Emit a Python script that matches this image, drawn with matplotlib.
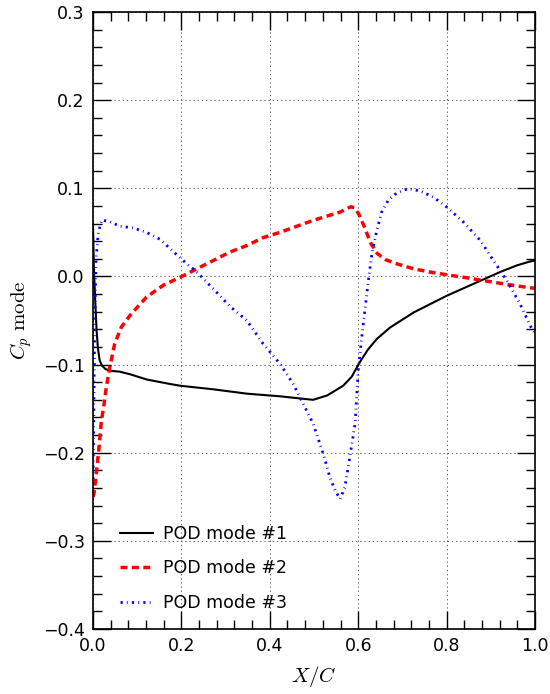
import matplotlib
matplotlib.use("Agg")
import matplotlib.pyplot as plt
from matplotlib.ticker import AutoMinorLocator, MultipleLocator

# POD mode #1
x_mode1 = [0.0, 0.002, 0.005, 0.008, 0.011, 0.015, 0.02, 0.028, 0.038, 0.06, 0.084,
           0.122, 0.174, 0.197, 0.271, 0.348, 0.423, 0.498, 0.53, 0.566, 0.585,
           0.604, 0.622, 0.642, 0.672, 0.725, 0.800, 0.876, 0.921, 0.959, 0.989, 1.0]
y_mode1 = [0.06, 0.01, -0.027, -0.06, -0.081, -0.095, -0.101, -0.105, -0.107, -0.108, -0.111,
           -0.117, -0.122, -0.124, -0.128, -0.133, -0.136, -0.140, -0.135, -0.124, -0.114,
           -0.097, -0.083, -0.071, -0.058, -0.041, -0.022, -0.005, 0.005, 0.0125, 0.017, 0.018]

# POD mode #2
x_mode2 = [0.0, 0.002, 0.0075, 0.0136, 0.019, 0.025, 0.030, 0.038, 0.049, 0.064, 0.084,
           0.102, 0.121, 0.159, 0.197, 0.235, 0.272, 0.31, 0.348, 0.385, 0.423, 0.498,
           0.559, 0.583, 0.592, 0.602, 0.615, 0.628, 0.643, 0.662, 0.687, 0.725, 0.762, 0.800,
           0.845, 0.891, 0.936, 0.989, 1.0]
y_mode2 = [-0.25, -0.247, -0.224, -0.194, -0.164, -0.145, -0.126, -0.103, -0.0765, -0.0576, -0.044,
           -0.034, -0.0235, -0.010, -0.001, 0.0087, 0.018, 0.0277, 0.035, 0.044, 0.050, 0.0636,
           0.073, 0.079, 0.078, 0.070, 0.055, 0.038, 0.026, 0.019, 0.0144, 0.0087, 0.005, 0.0019,
           -0.0015, -0.0053, -0.009, -0.0129, -0.0135]

# POD mode #3
x_mode3 = [0.0, 0.002, 0.004, 0.007, 0.012, 0.02, 0.038, 0.061, 0.091, 0.121, 0.152,
           0.182, 0.212, 0.231, 0.25, 0.272, 0.31, 0.348, 0.385, 0.423, 0.453, 0.476,
           0.498, 0.521, 0.536, 0.548, 0.559, 0.570, 0.581, 0.593, 0.600, 0.608, 0.615,
           0.623, 0.631, 0.642, 0.653, 0.668, 0.687, 0.713, 0.740, 0.770, 0.800, 0.838,
           0.876, 0.906, 0.936, 0.966, 0.989, 1.0]
y_mode3 = [-0.23, -0.15, -0.05, 0.02, 0.05, 0.064, 0.062, 0.057, 0.055, 0.050, 0.042,
           0.028, 0.0144, 0.0068, -0.0027, -0.014, -0.034, -0.050, -0.0765, -0.099, -0.122, -0.145,
           -0.167, -0.2015, -0.228, -0.243, -0.2526, -0.239, -0.205, -0.167, -0.107, -0.069, -0.039,
           -0.0045, 0.0258, 0.052, 0.073, 0.0864, 0.0947, 0.0996, 0.097, 0.090, 0.0788, 0.0617,
           0.041, 0.018, -0.0045, -0.031, -0.0557, -0.065]

labels = ["POD mode #1", "POD mode #2", "POD mode #3"]

plt.rcParams["mathtext.fontset"] = "cm"
plt.rcParams["lines.scale_dashes"] = False

fig = plt.figure(figsize=(5.5, 6.94), dpi=100)
ax = fig.add_axes([93 / 550, 1 - 629 / 694, 442 / 550, 617 / 694])

ax.plot(x_mode1, y_mode1, color="k", lw=1.5, label=labels[0])
ax.plot(x_mode2, y_mode2, color="r", lw=2.5, dashes=(5, 3.2), label=labels[1])
ax.plot(x_mode3, y_mode3, color="b", lw=2, dashes=(1.6, 3.0, 0.6, 3.0), label=labels[2])

ax.set_xlim(0, 1)
ax.set_ylim(-0.4, 0.3)
ax.xaxis.set_major_locator(MultipleLocator(0.2))
ax.yaxis.set_major_locator(MultipleLocator(0.1))
ax.xaxis.set_minor_locator(AutoMinorLocator(5))
ax.yaxis.set_minor_locator(AutoMinorLocator(5))
ax.tick_params(which="both", direction="in", top=True, right=True, labelsize=12.5)
ax.tick_params(which="major", length=13, width=1, pad=6)
ax.tick_params(which="minor", length=6.5, width=1)
for sp in ax.spines.values():
    sp.set_linewidth(1.2)

# 점선 그리드
ax.grid(True, which="major", color="0.3", lw=0.6, linestyle=(0, (1, 2)))

ax.set_xlabel(r"$X/C$", fontsize=15, labelpad=6)
ax.set_ylabel(r"$C_p\ \mathrm{mode}$", fontsize=15, labelpad=6)

ax.legend(loc="upper left", bbox_to_anchor=(0.061, 0.169), frameon=False,
          fontsize=12.5, handlelength=1.9, labelspacing=0.95,
          borderpad=0, borderaxespad=0, handletextpad=0.6)

fig.savefig("out.png", dpi=100)
